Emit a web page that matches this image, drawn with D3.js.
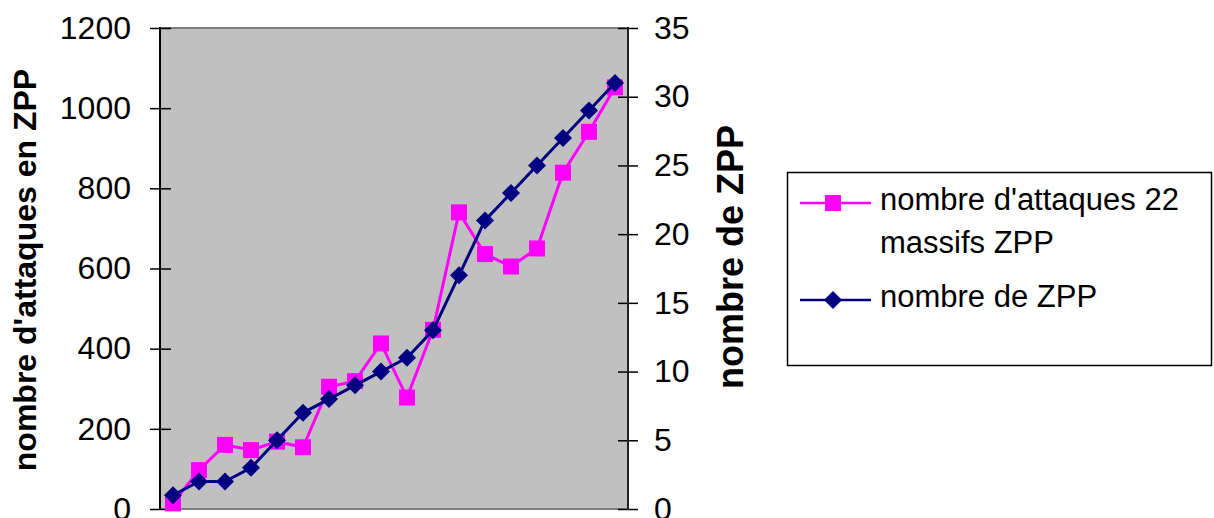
<!DOCTYPE html>
<html>
<head>
<meta charset="utf-8">
<script src="https://cdn.jsdelivr.net/npm/d3@7"></script>
<style>
  body { margin: 0; background: #fff; }
  text { font-family: "Liberation Sans", Arial, sans-serif; fill: #000; }
</style>
</head>
<body>
<script>

// one point per year, 18 of them, no labels on the x axis
var CATEGORIES = d3.range(1, 19);

var ATTAQUES = [14, 97, 160, 147, 168, 154, 305, 319, 413, 278,
                447, 740, 636, 605, 650, 839, 941, 1052];
var ZPP = [1, 2, 2, 3, 5, 7, 8, 9, 10, 11, 13, 17, 21, 23, 25, 27, 29, 31];

var LEFT_TICKS = [0, 200, 400, 600, 800, 1000, 1200];
var RIGHT_TICKS = [0, 5, 10, 15, 20, 25, 30, 35];

var SERIES_NAMES = ["nombre d'attaques 22", "massifs ZPP", "nombre de ZPP"];
var LEFT_TITLE = "nombre d'attaques en ZPP";
var RIGHT_TITLE = "nombre de ZPP";

var W = 1214, H = 518;
var X0 = 160, X1 = 628, Y0 = 509, Y1 = 28;

var svg = d3.select("body").append("svg")
    .attr("width", W)
    .attr("height", H);

var x = d3.scaleBand().domain(CATEGORIES).range([X0, X1]).padding(0);
var yL = d3.scaleLinear().domain([0, 1200]).range([Y0, Y1]);
var yR = d3.scaleLinear().domain([0, 35]).range([Y0, Y1]);

function cx(d, i) { return x(CATEGORIES[i]) + x.bandwidth() / 2; }

// plot area
svg.append("rect")
    .attr("x", X0).attr("y", Y1)
    .attr("width", X1 - X0).attr("height", Y0 - Y1)
    .attr("fill", "#c0c0c0");
svg.append("line")
    .attr("x1", X0).attr("x2", X1).attr("y1", Y1).attr("y2", Y1)
    .attr("stroke", "#808080").attr("stroke-width", 2);
svg.append("line")
    .attr("x1", X0).attr("x2", X1).attr("y1", Y0).attr("y2", Y0)
    .attr("stroke", "#808080").attr("stroke-width", 2);

// axes: ticks cross the axis line, so shift the group and draw the line by hand
var gL = svg.append("g")
    .attr("transform", "translate(" + (X0 + 11) + ",0)")
    .call(d3.axisLeft(yL).tickValues(LEFT_TICKS).tickFormat(d3.format("d"))
        .tickSize(21).tickPadding(19));
var gR = svg.append("g")
    .attr("transform", "translate(" + (X1 - 10) + ",0)")
    .call(d3.axisRight(yR).tickValues(RIGHT_TICKS).tickFormat(d3.format("d"))
        .tickSize(20).tickPadding(16));

[gL, gR].forEach(function (g) {
    g.select(".domain").remove();
    g.selectAll(".tick line").attr("stroke", "#000").attr("stroke-width", 1.5);
    g.selectAll(".tick text")
        .attr("font-size", 32)
        .attr("font-family", "'Liberation Sans', Arial, sans-serif")
        .attr("fill", "#000");
});

svg.append("line")
    .attr("x1", X0).attr("x2", X0).attr("y1", Y1 - 1).attr("y2", Y0 + 1)
    .attr("stroke", "#000").attr("stroke-width", 2);
svg.append("line")
    .attr("x1", X1).attr("x2", X1).attr("y1", Y1 - 1).attr("y2", Y0 + 1)
    .attr("stroke", "#222").attr("stroke-width", 2);

// axis titles
svg.append("text")
    .attr("transform", "translate(36," + 270 + ") rotate(-90)")
    .attr("text-anchor", "middle")
    .attr("font-size", 32)
    .attr("font-weight", "bold")
    .text(LEFT_TITLE);
svg.append("text")
    .attr("transform", "translate(743," + 257 + ") rotate(-90)")
    .attr("text-anchor", "middle")
    .attr("font-size", 36)
    .attr("font-weight", "bold")
    .text(RIGHT_TITLE);

var MAGENTA = "#ff00ff", NAVY = "#000080";
var SQ = 16, DI = 9;

function square(sel) {
    sel.attr("width", SQ).attr("height", SQ).attr("fill", MAGENTA);
}
function diamondPath(px, py) {
    return "M" + px + "," + (py - DI) + "L" + (px + DI) + "," + py +
           "L" + px + "," + (py + DI) + "L" + (px - DI) + "," + py + "Z";
}

// attaques on left axis
svg.append("path")
    .datum(ATTAQUES)
    .attr("fill", "none")
    .attr("stroke", MAGENTA)
    .attr("stroke-width", 3)
    .attr("d", d3.line().x(cx).y(function (d) { return yL(d); }));
svg.selectAll("rect.att")
    .data(ATTAQUES)
    .enter().append("rect")
    .attr("class", "att")
    .attr("x", function (d, i) { return cx(d, i) - SQ / 2; })
    .attr("y", function (d) { return yL(d) - SQ / 2; })
    .call(square);

// ZPP on right axis
svg.append("path")
    .datum(ZPP)
    .attr("fill", "none")
    .attr("stroke", NAVY)
    .attr("stroke-width", 3)
    .attr("d", d3.line().x(cx).y(function (d) { return yR(d); }));
svg.selectAll("path.zpp")
    .data(ZPP)
    .enter().append("path")
    .attr("class", "zpp")
    .attr("fill", NAVY)
    .attr("d", function (d, i) { return diamondPath(cx(d, i), yR(d)); });

// legend
var lg = svg.append("g");
lg.append("rect")
    .attr("x", 787.5).attr("y", 172.5)
    .attr("width", 424).attr("height", 193)
    .attr("fill", "#fff")
    .attr("stroke", "#000").attr("stroke-width", 1.5);

lg.append("line")
    .attr("x1", 800).attr("x2", 871).attr("y1", 203).attr("y2", 203)
    .attr("stroke", MAGENTA).attr("stroke-width", 2.5);
lg.append("rect")
    .attr("x", 833 - SQ / 2).attr("y", 203 - SQ / 2)
    .call(square);
lg.append("text").attr("x", 880).attr("y", 210)
    .attr("font-size", 31).text(SERIES_NAMES[0]);
lg.append("text").attr("x", 880).attr("y", 253)
    .attr("font-size", 31).text(SERIES_NAMES[1]);

lg.append("line")
    .attr("x1", 800).attr("x2", 871).attr("y1", 300).attr("y2", 300)
    .attr("stroke", NAVY).attr("stroke-width", 2.5);
lg.append("path")
    .attr("fill", NAVY)
    .attr("d", diamondPath(833, 300));
lg.append("text").attr("x", 880).attr("y", 307)
    .attr("font-size", 31).text(SERIES_NAMES[2]);

</script>
</body>
</html>
